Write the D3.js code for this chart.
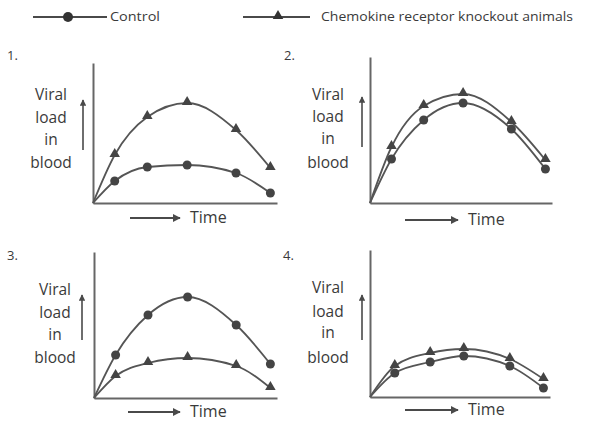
<!DOCTYPE html>
<html><head><meta charset="utf-8">
<script src="https://cdn.jsdelivr.net/npm/d3@7"></script>
<style>body{margin:0;background:#fff}svg{display:block}text{font-family:"Open Sans",sans-serif;fill:#3a3a3a}</style>
</head><body><svg id="c" width="590" height="424"></svg>
<script>
// ---- data ----
const times = [1.2, 3.0, 5.2, 7.9, 9.8];
const times4 = [1.4, 3.4, 5.3, 7.9, 9.8];
const seriesNames = ["Control", "Chemokine receptor knockout animals"];
const panelLabels = ["1.", "2.", "3.", "4."];
const yLabelLines = ["Viral", "load", "in", "blood"];
const xLabel = "Time";
// values: viral load (arbitrary units) at each time, per panel
const control1 = [22, 36, 38, 30, 10];
const knockout1 = [48, 86, 100, 73, 35];
const control2 = [44, 83, 100, 74, 34];
const knockout2 = [56, 97, 109, 81, 43];
const control3 = [43, 83, 101, 73, 34];
const knockout3 = [22, 35, 40, 32, 10];
const control4 = [24, 35, 41, 31, 9];
const knockout4 = [31, 44, 48, 38, 18];

const panels = [
  {label: panelLabels[0], t: times, control: control1, knockout: knockout1, ox: 93, base: 203, top: 63, right: 277, lx: 51, ly: [100,123,145,168], arrX: 83, arrY: [150,100], tY: 218, tX: [130,180]},
  {label: panelLabels[1], t: times, control: control2, knockout: knockout2, ox: 370, base: 203, top: 57, right: 552, lx: 328, ly: [100,122,144,168], arrX: 362, arrY: [147,97], tY: 220, tX: [405,458]},
  {label: panelLabels[2], t: times, control: control3, knockout: knockout3, ox: 94, base: 398, top: 252, right: 277, lx: 55, ly: [295,318,340,363], arrX: 82, arrY: [340,295], tY: 412, tX: [128,180]},
  {label: panelLabels[3], t: times4, control: control4, knockout: knockout4, ox: 370, base: 397, top: 250, right: 550, lx: 328, ly: [293,317,338,363], arrX: 362, arrY: [340,295], tY: 410, tX: [405,458]}
];
const numPos = [[7,60],[284,60],[7,260],[283,260]];

const svg = d3.select("#c");
const ink = "#4a4a4a";
const defs = svg.append("defs");
defs.append("marker").attr("id","ah").attr("viewBox","0 0 10 10").attr("refX",9).attr("refY",5)
  .attr("markerWidth",4).attr("markerHeight",4).attr("orient","auto")
  .append("path").attr("d","M0,0L10,5L0,10Z").attr("fill",ink);

const triSym = d3.symbol().type(d3.symbolTriangle).size(48);

// legend
const lg = svg.append("g");
lg.append("line").attr("x1",33).attr("x2",107).attr("y1",17).attr("y2",17).attr("stroke",ink).attr("stroke-width",2);
lg.append("circle").attr("cx",68).attr("cy",17).attr("r",5).attr("fill","#333");
lg.append("text").attr("x",110).attr("y",21).attr("font-size",12).attr("textLength",50).attr("lengthAdjust","spacingAndGlyphs").text(seriesNames[0]);
lg.append("line").attr("x1",243).attr("x2",310).attr("y1",17).attr("y2",17).attr("stroke",ink).attr("stroke-width",2);
lg.append("path").attr("d",triSym()).attr("transform","translate(278,16)").attr("fill","#333");
lg.append("text").attr("x",321).attr("y",21).attr("font-size",12).attr("textLength",252).attr("lengthAdjust","spacingAndGlyphs").text(seriesNames[1]);

panels.forEach((p, i) => {
  const g = svg.append("g");
  const H = p.base - p.top;
  const x = d3.scaleLinear().domain([0, 10]).range([p.ox, p.right - 3]);
  const y = d3.scaleLinear().domain([0, H]).range([p.base, p.top]);

  // axes
  g.append("g").attr("transform", `translate(${p.ox},0)`)
    .call(d3.axisLeft(y).tickValues([]).tickSizeOuter(0))
    .call(a => a.select(".domain").attr("stroke", "#666").attr("stroke-width", 2));
  const xa = d3.scaleLinear().domain([0, 10]).range([p.ox, p.right]);
  g.append("g").attr("transform", `translate(0,${p.base})`)
    .call(d3.axisBottom(xa).tickValues([]).tickSizeOuter(0))
    .call(a => a.select(".domain").attr("stroke", "#666").attr("stroke-width", 2));

  // panel number
  g.append("text").attr("x", numPos[i][0]).attr("y", numPos[i][1]).attr("font-size", 13).text(p.label);

  // y label
  yLabelLines.forEach((t, k) => g.append("text").attr("x", p.lx).attr("y", p.ly[k])
    .attr("text-anchor", "middle").attr("font-size", 15.5).text(t));
  g.append("line").attr("x1", p.arrX).attr("x2", p.arrX).attr("y1", p.arrY[0]).attr("y2", p.arrY[1])
    .attr("stroke", ink).attr("stroke-width", 1.6).attr("marker-end", "url(#ah)");

  // x label
  g.append("line").attr("x1", p.tX[0]).attr("x2", p.tX[1]).attr("y1", p.tY).attr("y2", p.tY)
    .attr("stroke", ink).attr("stroke-width", 2).attr("marker-end", "url(#ah)");
  g.append("text").attr("x", p.tX[1] + 10).attr("y", p.tY + 5).attr("font-size", 16).text(xLabel);

  const line = d3.line().x(d => x(d[0])).y(d => y(d[1])).curve(d3.curveMonotoneX);
  [["control", p.control], ["knockout", p.knockout]].forEach(([key, vals]) => {
    const pts = [[0, 0]].concat(p.t.map((t, j) => [t, vals[j]]));
    g.append("path").attr("d", line(pts)).attr("fill", "none").attr("stroke", "#555").attr("stroke-width", 1.8);
    const m = g.selectAll(null).data(p.t.map((t, j) => [t, vals[j]])).enter();
    if (key === "control") {
      m.append("circle").attr("cx", d => x(d[0])).attr("cy", d => y(d[1])).attr("r", 4.5).attr("fill", "#444");
    } else {
      m.append("path").attr("d", triSym()).attr("transform", d => `translate(${x(d[0])},${y(d[1]) - 1})`).attr("fill", "#444");
    }
  });
});
</script></body></html>
